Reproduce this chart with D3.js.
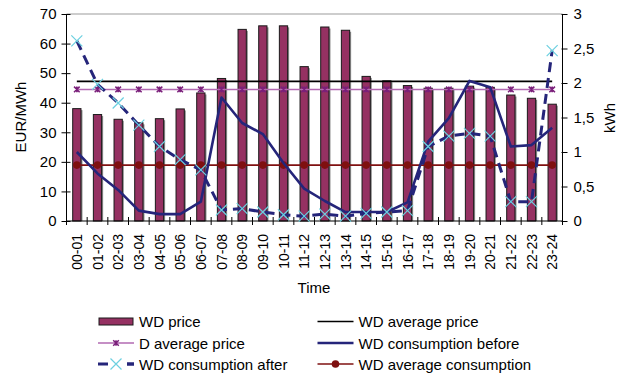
<!DOCTYPE html>
<html>
<head>
<meta charset="utf-8">
<script src="https://cdn.jsdelivr.net/npm/d3@7"></script>
<style>
  html, body { margin: 0; padding: 0; background: #fff; }
  svg text { font-family: "Liberation Sans", Arial, sans-serif; fill: #000; }
</style>
</head>
<body>
<svg id="chart" width="622" height="376"></svg>
<script>
// Hourly slots of a working day
const hours = ["00-01","01-02","02-03","03-04","04-05","05-06","06-07","07-08","08-09","09-10","10-11","11-12",
               "12-13","13-14","14-15","15-16","16-17","17-18","18-19","19-20","20-21","21-22","22-23","23-24"];

// Working-day electricity price, EUR/MWh
const wdPrice = [38, 36, 34.4, 33.2, 34.6, 37.9, 43.3, 48.2, 64.8, 66, 66, 52.2,
                 65.6, 64.5, 48.9, 47.4, 45.8, 44.9, 44.9, 45.6, 45.2, 42.6, 41.5, 39.5];
const wdAvgPrice = 47.2;   // EUR/MWh
const dAvgPrice = 44.5;    // EUR/MWh

// Household consumption, kWh
const consBefore = [1.00, 0.69, 0.45, 0.15, 0.10, 0.10, 0.28, 1.79, 1.42, 1.26, 0.84, 0.47,
                    0.29, 0.13, 0.13, 0.13, 0.27, 1.15, 1.49, 2.03, 1.94, 1.08, 1.10, 1.35];
const consAfter  = [2.61, 1.98, 1.71, 1.39, 1.08, 0.89, 0.74, 0.16, 0.18, 0.13, 0.09, 0.07,
                    0.10, 0.07, 0.11, 0.13, 0.15, 1.08, 1.23, 1.27, 1.23, 0.28, 0.28, 2.47];
const wdAvgCons = 0.81;    // kWh

const priceTicks = [0, 10, 20, 30, 40, 50, 60, 70];
const consTicks = [0, 0.5, 1, 1.5, 2, 2.5, 3];

const C = {
  bar: "#953162",
  avgPrice: "#000000",
  dLine: "#b26ab2",
  dMark: "#7a1f7a",
  before: "#25257a",
  after: "#25257a",
  afterMark: "#6cd0e0",
  avgCons: "#7f1010",
  grid: "#bdbdbd"
};

const svg = d3.select("#chart");
const L = 66.5, R = 562.5, T = 14, B = 221;

const x = d3.scaleBand().domain(hours).range([L, R]).paddingInner(0.6).paddingOuter(0.3);
const cx = d => x(d) + x.bandwidth() / 2;
const yP = d3.scaleLinear().domain([0, 70]).range([B, T]);
const yC = d3.scaleLinear().domain([0, 3]).range([B, T]);

// top gridline
svg.append("line").attr("x1", L).attr("x2", R).attr("y1", yP(70)).attr("y2", yP(70))
  .attr("stroke", C.grid).attr("stroke-width", 1.5);

// price bars with a soft shadow
const barG = svg.append("g");
barG.selectAll("rect.shadow").data(hours).join("rect").attr("class", "shadow")
  .attr("x", d => x(d) + 1.5).attr("y", (d, i) => yP(wdPrice[i]) + 1.5)
  .attr("width", x.bandwidth()).attr("height", (d, i) => B - yP(wdPrice[i]) - 1.5)
  .attr("fill", "#8a8a8a");
barG.selectAll("rect.bar").data(hours).join("rect").attr("class", "bar")
  .attr("x", d => x(d)).attr("y", (d, i) => yP(wdPrice[i]))
  .attr("width", x.bandwidth()).attr("height", (d, i) => B - yP(wdPrice[i]))
  .attr("fill", C.bar).attr("stroke", "#1a1a1a").attr("stroke-width", 1);

// axes
const xAxis = svg.append("g").attr("transform", `translate(0,${B})`);
xAxis.append("line").attr("x1", L).attr("x2", R).attr("stroke", "#000");
const bounds = hours.map(h => x(h) - x.step() * 0.3).concat([R]);
xAxis.selectAll("line.tick").data(bounds).join("line").attr("class", "tick")
  .attr("x1", d => d).attr("x2", d => d).attr("y1", -4).attr("y2", 4).attr("stroke", "#000");
xAxis.selectAll("text").data(hours).join("text")
  .attr("transform", d => `translate(${cx(d) + 5},${13}) rotate(-90)`)
  .attr("text-anchor", "end").attr("font-size", 14).text(d => d);

const yAxisL = svg.append("g").call(d3.axisLeft(yP).tickValues(priceTicks).tickSize(4).tickPadding(6))
  .attr("transform", `translate(${L},0)`);
yAxisL.select(".domain").remove();
yAxisL.append("line").attr("y1", T).attr("y2", B + 4).attr("stroke", "#000");
yAxisL.selectAll(".tick line").attr("x1", 4).attr("x2", -5);
yAxisL.selectAll(".tick text").attr("font-size", 15).attr("font-family", "Liberation Sans, Arial, sans-serif");

const yAxisR = svg.append("g").call(d3.axisRight(yC).tickValues(consTicks).tickSize(4).tickPadding(7)
    .tickFormat(d => String(d).replace(".", ",")))
  .attr("transform", `translate(${R},0)`);
yAxisR.select(".domain").remove();
yAxisR.append("line").attr("y1", T).attr("y2", B + 4).attr("stroke", "#000");
yAxisR.selectAll(".tick line").attr("x1", -1).attr("x2", 5);
yAxisR.selectAll(".tick text").attr("font-size", 15).attr("font-family", "Liberation Sans, Arial, sans-serif");

// axis titles
svg.append("text").attr("x", 314).attr("y", 293).attr("text-anchor", "middle").attr("font-size", 15).text("Time");
svg.append("text").attr("transform", "translate(26,117) rotate(-90)").attr("text-anchor", "middle")
  .attr("font-size", 15).text("EUR/MWh");
svg.append("text").attr("transform", "translate(615,118) rotate(-90)").attr("text-anchor", "middle")
  .attr("font-size", 15).text("kWh");

// marker helpers
function star(g, px, py, color) {
  const s = 2.8;
  g.append("path").attr("d", `M${px - s},${py - s}L${px + s},${py + s}M${px - s},${py + s}L${px + s},${py - s}M${px},${py - s}L${px},${py + s}`)
    .attr("stroke", color).attr("stroke-width", 1.5).attr("fill", "none");
}
function cross(g, px, py, color) {
  const s = 5.5;
  g.append("path").attr("d", `M${px - s},${py - s}L${px + s},${py + s}M${px - s},${py + s}L${px + s},${py - s}`)
    .attr("stroke", color).attr("stroke-width", 1.2).attr("fill", "none");
}

const x0 = cx(hours[0]), x1 = cx(hours[hours.length - 1]);

// WD average price
svg.append("line").attr("x1", x0).attr("x2", x1).attr("y1", yP(wdAvgPrice)).attr("y2", yP(wdAvgPrice))
  .attr("stroke", C.avgPrice).attr("stroke-width", 1.6);

// D average price
svg.append("line").attr("x1", x0).attr("x2", x1).attr("y1", yP(dAvgPrice)).attr("y2", yP(dAvgPrice))
  .attr("stroke", C.dLine).attr("stroke-width", 1.5);
const dG = svg.append("g");
hours.forEach(h => star(dG, cx(h), yP(dAvgPrice), C.dMark));

// WD average consumption
svg.append("line").attr("x1", x0).attr("x2", x1).attr("y1", yC(wdAvgCons)).attr("y2", yC(wdAvgCons))
  .attr("stroke", C.avgCons).attr("stroke-width", 1.6);
svg.append("g").selectAll("circle").data(hours).join("circle")
  .attr("cx", d => cx(d)).attr("cy", yC(wdAvgCons)).attr("r", 3.8).attr("fill", C.avgCons);

const line = d3.line().x((d, i) => cx(hours[i])).y(d => yC(d));

// consumption before
svg.append("path").datum(consBefore).attr("d", line).attr("fill", "none")
  .attr("stroke", C.before).attr("stroke-width", 2.6).attr("stroke-linejoin", "round");

// consumption after
svg.append("path").datum(consAfter).attr("d", line).attr("fill", "none")
  .attr("stroke", C.after).attr("stroke-width", 3).attr("stroke-dasharray", "10,6");
const aG = svg.append("g");
consAfter.forEach((v, i) => cross(aG, cx(hours[i]), yC(v), C.afterMark));

// legend
const lg = svg.append("g").attr("font-size", 15);
const rows = [321.5, 343, 364];
const col1 = 98, col2 = 317.5, symW = 36;
function ltext(xx, yy, t) {
  lg.append("text").attr("x", xx + symW + 5).attr("y", yy + 5.5).attr("font-size", 15).text(t);
}
// WD price
lg.append("rect").attr("x", col1 + 1).attr("y", rows[0] - 3.5).attr("width", symW - 2).attr("height", 7)
  .attr("fill", C.bar).attr("stroke", "#1a1a1a");
ltext(col1, rows[0], "WD price");
// D average price
lg.append("line").attr("x1", col1).attr("x2", col1 + symW).attr("y1", rows[1]).attr("y2", rows[1])
  .attr("stroke", C.dLine).attr("stroke-width", 1.5);
star(lg, col1 + symW / 2, rows[1], C.dMark);
ltext(col1, rows[1], "D average price");
// WD consumption after
lg.append("line").attr("x1", col1).attr("x2", col1 + symW).attr("y1", rows[2]).attr("y2", rows[2])
  .attr("stroke", C.after).attr("stroke-width", 3).attr("stroke-dasharray", "10,19");
lg.append("line").attr("x1", col1 + symW - 7).attr("x2", col1 + symW).attr("y1", rows[2]).attr("y2", rows[2])
  .attr("stroke", C.after).attr("stroke-width", 3);
cross(lg, col1 + symW / 2, rows[2], C.afterMark);
ltext(col1, rows[2], "WD consumption after");
// WD average price
lg.append("line").attr("x1", col2).attr("x2", col2 + symW).attr("y1", rows[0]).attr("y2", rows[0])
  .attr("stroke", C.avgPrice).attr("stroke-width", 1.6);
ltext(col2, rows[0], "WD average price");
// WD consumption before
lg.append("line").attr("x1", col2).attr("x2", col2 + symW).attr("y1", rows[1]).attr("y2", rows[1])
  .attr("stroke", C.before).attr("stroke-width", 2.6);
ltext(col2, rows[1], "WD consumption before");
// WD average consumption
lg.append("line").attr("x1", col2).attr("x2", col2 + symW).attr("y1", rows[2]).attr("y2", rows[2])
  .attr("stroke", C.avgCons).attr("stroke-width", 1.6);
lg.append("circle").attr("cx", col2 + symW / 2).attr("cy", rows[2]).attr("r", 3.8).attr("fill", C.avgCons);
ltext(col2, rows[2], "WD average consumption");
</script>
</body>
</html>
